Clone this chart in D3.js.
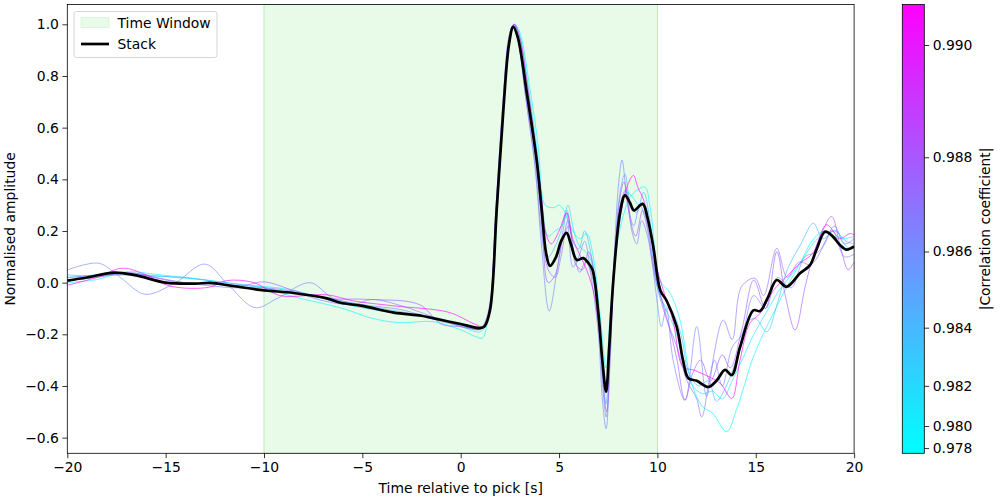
<!DOCTYPE html>
<html>
<head>
<meta charset="utf-8">
<script src="https://cdn.jsdelivr.net/npm/d3@7"></script>
<style>
  body { margin: 0; background: #fff; }
  svg { font-family: "DejaVu Sans", sans-serif; }
</style>
</head>
<body>
<script>
var width = 1000;
var height = 500;

// time window and axis limits
var windowStart = -10, windowEnd = 10;
var xTicks = [-20, -15, -10, -5, 0, 5, 10, 15, 20];
var yTicks = [-0.6, -0.4, -0.2, 0.0, 0.2, 0.4, 0.6, 0.8, 1.0];
var cbTicks = [0.978, 0.980, 0.982, 0.984, 0.986, 0.988, 0.990];
var ccMin = 0.97655, ccMax = 0.99066;

// stacked trace [time, amplitude]
var stack = [[-20,0.008],[-19,0.02],[-17.6,0.039],[-16.5,0.028],[-15,0.0],[-13.5,-0.004],[-12.75,-0.001],
  [-11.6,-0.013],[-10.2,-0.028],[-9.7,-0.032],[-8.5,-0.04],[-6.8,-0.061],[-6.1,-0.078],[-5,-0.09],
  [-3.4,-0.116],[-2,-0.128],[-1.4,-0.138],[0,-0.16],[0.98,-0.176],[1.2,-0.17],[1.49,-0.107],[1.83,0.283],
  [2.17,0.67],[2.45,0.92],[2.67,0.99],[2.9,0.95],[3.36,0.735],[3.86,0.475],[4.12,0.28],[4.35,0.11],
  [4.54,0.065],[4.85,0.1],[5.1,0.16],[5.38,0.193],[5.6,0.15],[5.9,0.088],[6.23,0.095],[6.5,0.075],
  [6.7,0.05],[7.0,-0.12],[7.2,-0.3],[7.39,-0.422],[7.55,-0.25],[7.76,0.01],[8.1,0.27],[8.35,0.338],
  [8.6,0.31],[8.81,0.28],[9.25,0.305],[9.5,0.25],[9.79,0.14],[10.15,-0.03],[10.47,-0.07],[10.98,-0.17],
  [11.3,-0.3],[11.57,-0.37],[12.0,-0.38],[12.59,-0.404],[13.0,-0.38],[13.44,-0.338],[13.78,-0.358],
  [14.2,-0.25],[14.88,-0.107],[15.22,-0.11],[15.6,-0.06],[16.07,0.01],[16.57,-0.016],[17.25,0.036],
  [17.76,0.068],[18.1,0.13],[18.52,0.197],[18.9,0.18],[19.28,0.146],[19.62,0.128],[20,0.14]];

// individual traces, one array each
var traceC = [[-20,0.0],[-18.5,0.012],[-17,0.042],[-15.5,0.032],[-14,0.02],[-12.5,0.006],[-11,-0.008],
  [-10.2,-0.015],[-8.5,-0.054],[-6,-0.1],[-4.5,-0.138],[-3.1,-0.155],[-1.4,-0.151],[0,-0.183],[0.8,-0.21],
  [1.1,-0.215],[1.35,-0.16],[1.6,-0.02],[1.9,0.33],[2.2,0.7],[2.5,0.94],[2.75,1.0],[3.0,0.97],[3.5,0.76],
  [3.95,0.52],[4.12,0.35],[4.3,0.3],[4.7,0.29],[5.0,0.3],[5.25,0.28],[5.56,0.22],[6.05,0.17],[6.4,0.19],
  [6.74,0.1],[7.08,-0.12],[7.39,-0.33],[7.6,-0.12],[7.93,0.14],[8.27,0.26],[8.6,0.33],[9.0,0.36],
  [9.37,0.37],[9.65,0.28],[10.13,0.01],[10.64,-0.04],[11.15,-0.145],[11.74,-0.39],[12.3,-0.48],
  [12.8,-0.505],[13.52,-0.577],[14.03,-0.49],[14.88,-0.287],[15.56,-0.17],[16.07,-0.093],[16.4,-0.041],
  [17.25,0.075],[17.9,0.165],[18.5,0.2],[19.2,0.17],[20,0.178]];
var traceL = [[-20,0.02],[-18.5,0.03],[-17.3,0.035],[-16,0.03],[-14.5,0.02],[-13,0.01],[-11.5,-0.01],
  [-10,-0.015],[-8.5,-0.03],[-7,-0.06],[-5.5,-0.09],[-4,-0.11],[-2.5,-0.125],[-1,-0.145],[0,-0.17],
  [1.0,-0.19],[1.3,-0.16],[1.58,-0.05],[1.88,0.32],[2.22,0.71],[2.52,0.95],[2.75,1.0],[3.02,0.95],
  [3.45,0.75],[3.9,0.5],[4.15,0.3],[4.45,0.18],[4.8,0.2],[5.15,0.22],[5.45,0.3],[5.75,0.2],[6.05,0.14],
  [6.35,0.12],[6.65,0.08],[6.95,-0.06],[7.2,-0.3],[7.4,-0.4],[7.6,-0.18],[7.85,0.1],[8.15,0.3],
  [8.45,0.35],[8.75,0.33],[9.05,0.3],[9.35,0.3],[9.65,0.2],[9.95,0.0],[10.4,-0.1],[10.9,-0.18],
  [11.3,-0.3],[11.8,-0.4],[12.3,-0.43],[12.8,-0.42],[13.3,-0.45],[13.8,-0.38],[14.3,-0.3],[14.9,-0.2],
  [15.5,-0.12],[16.1,-0.04],[16.7,0.02],[17.3,0.08],[17.9,0.15],[18.5,0.19],[19.1,0.2],[19.6,0.14],[20,0.13]];
var traceB = [[-20,0.03],[-18.5,0.025],[-17,0.03],[-15.5,0.025],[-14,0.02],[-12.5,0.005],[-11,-0.01],
  [-10,-0.02],[-8.5,-0.04],[-7,-0.055],[-5.5,-0.08],[-4,-0.1],[-2.5,-0.12],[-1,-0.14],[0,-0.165],
  [1.0,-0.18],[1.3,-0.15],[1.55,-0.06],[1.85,0.31],[2.2,0.7],[2.5,0.95],[2.72,1.0],[3.0,0.94],[3.4,0.74],
  [3.9,0.48],[4.15,0.26],[4.45,0.1],[4.8,0.14],[5.1,0.2],[5.4,0.28],[5.7,0.16],[6.0,0.13],[6.3,0.2],
  [6.6,0.12],[6.9,-0.02],[7.15,-0.25],[7.38,-0.47],[7.6,-0.2],[7.85,0.12],[8.1,0.35],[8.35,0.42],
  [8.65,0.3],[8.95,0.27],[9.3,0.35],[9.6,0.25],[9.9,0.05],[10.3,-0.08],[10.8,-0.12],[11.2,-0.2],
  [11.6,-0.35],[12.1,-0.4],[12.6,-0.38],[13.0,-0.46],[13.5,-0.4],[14.0,-0.3],[14.6,-0.15],[15.0,-0.14],
  [15.56,-0.19],[16.1,-0.08],[16.6,0.05],[17.3,0.15],[17.93,0.23],[18.4,0.17],[19.0,0.2],[19.6,0.16],[20,0.15]];
var traceP1 = [[-20,0.049],[-18.4,0.075],[-17.3,0.02],[-16.05,-0.045],[-14.5,0.0],[-13.0,0.072],
  [-11.8,-0.01],[-10.46,-0.097],[-9.3,-0.06],[-7.66,0.0],[-6.5,-0.06],[-5,-0.085],[-3,-0.105],[-1,-0.15],
  [0,-0.165],[1.0,-0.18],[1.25,-0.16],[1.5,-0.08],[1.8,0.3],[2.15,0.7],[2.45,0.95],[2.65,0.995],
  [2.9,0.94],[3.3,0.72],[3.8,0.43],[4.1,0.15],[4.5,-0.11],[4.9,0.05],[5.2,0.2],[5.39,0.27],[5.7,0.06],
  [6.0,0.1],[6.3,0.16],[6.6,0.04],[7.0,-0.2],[7.2,-0.45],[7.39,-0.565],[7.6,-0.3],[7.8,0.1],[8.05,0.4],
  [8.2,0.475],[8.5,0.3],[8.8,0.22],[9.1,0.3],[9.4,0.24],[9.7,0.1],[10.0,-0.08],[10.2,-0.17],[10.45,-0.1],
  [10.8,-0.3],[11.4,-0.455],[12.0,-0.17],[12.5,-0.44],[12.9,-0.3],[13.3,-0.4],[13.8,-0.25],[14.3,-0.2],
  [14.9,-0.05],[15.5,-0.1],[16.1,0.02],[16.8,-0.02],[17.5,0.1],[18.2,0.12],[18.9,0.2],[19.5,0.1],[20,0.11]];
var traceP2 = [[-20,0.02],[-18,0.03],[-16.5,0.035],[-15,0.01],[-13,-0.01],[-11.5,-0.02],[-10,-0.02],
  [-8.5,-0.035],[-7,-0.07],[-5.5,-0.085],[-4.5,-0.065],[-3,-0.09],[-1.5,-0.13],[0,-0.17],[1.0,-0.18],
  [1.25,-0.15],[1.5,-0.07],[1.8,0.3],[2.15,0.7],[2.45,0.95],[2.7,1.0],[2.95,0.93],[3.3,0.72],[3.8,0.45],
  [4.1,0.2],[4.45,0.05],[4.8,0.02],[5.1,0.1],[5.45,0.24],[5.75,0.12],[6.05,0.04],[6.35,0.08],[6.7,0.02],
  [7.0,-0.15],[7.2,-0.38],[7.4,-0.52],[7.6,-0.25],[7.8,0.05],[8.1,0.3],[8.4,0.36],[8.7,0.2],[8.95,0.15],
  [9.2,0.24],[9.5,0.18],[9.8,0.05],[10.1,-0.05],[10.5,-0.15],[11.0,-0.25],[11.5,-0.38],[12.0,-0.45],
  [12.25,-0.52],[12.7,-0.35],[13.35,-0.145],[13.8,-0.22],[14.28,-0.015],[14.96,0.017],[15.4,-0.05],
  [16.07,0.133],[16.6,0.02],[17.2,0.08],[17.8,0.07],[18.5,0.15],[19.0,0.22],[19.5,0.15],[20,0.17]];
var traceV = [[-20,0.01],[-18.5,0.02],[-17,0.04],[-15.5,0.02],[-14,0.0],[-12.5,-0.005],[-11,-0.01],
  [-10,0.003],[-8.5,-0.03],[-7,-0.06],[-4.6,-0.065],[-2.1,-0.085],[-1,-0.16],[0,-0.17],[1.0,-0.178],
  [1.25,-0.16],[1.5,-0.09],[1.82,0.29],[2.18,0.68],[2.47,0.94],[2.7,0.995],[2.95,0.93],[3.35,0.72],
  [3.85,0.46],[4.15,0.2],[4.45,0.0],[4.8,0.03],[5.2,0.17],[5.5,0.22],[5.85,0.07],[6.2,0.05],[6.5,0.12],
  [6.8,0.03],[7.05,-0.15],[7.25,-0.4],[7.42,-0.5],[7.6,-0.28],[7.8,0.06],[8.1,0.33],[8.3,0.39],[8.6,0.25],
  [8.9,0.18],[9.25,0.28],[9.55,0.2],[9.85,0.05],[10.2,-0.06],[10.7,-0.2],[11.0,-0.3],[11.4,-0.455],
  [11.8,-0.35],[12.2,-0.3],[12.7,-0.38],[13.3,-0.28],[13.7,-0.33],[14.3,-0.18],[14.9,0.01],[15.5,-0.1],
  [16.07,0.12],[16.5,-0.05],[17.0,-0.183],[17.5,-0.02],[17.9,0.1],[18.4,0.2],[18.86,0.256],[19.3,0.14],
  [19.7,0.05],[20,0.08]];
var traceM = [[-20,-0.01],[-18.5,0.02],[-17.2,0.056],[-16,0.03],[-14.8,-0.013],[-12.8,-0.018],
  [-11.9,0.008],[-10.5,0.0],[-9.2,-0.05],[-6.8,-0.047],[-5.5,-0.07],[-3.4,-0.09],[-0.6,-0.115],[0.7,-0.16],
  [1.15,-0.17],[1.45,-0.11],[1.8,0.27],[2.2,0.7],[2.5,0.95],[2.72,1.0],[3.0,0.95],[3.4,0.76],[3.9,0.47],
  [4.1,0.34],[4.3,0.2],[4.6,0.15],[5.0,0.2],[5.39,0.27],[5.7,0.17],[6.1,0.1],[6.4,0.05],[6.8,-0.05],
  [7.08,-0.22],[7.39,-0.4],[7.6,-0.2],[7.85,0.08],[8.15,0.27],[8.45,0.37],[8.78,0.415],[9.0,0.37],
  [9.3,0.32],[9.6,0.22],[9.9,0.08],[10.3,-0.03],[10.8,-0.15],[11.3,-0.326],[11.83,-0.338],[12.5,-0.36],
  [13.2,-0.39],[13.78,-0.448],[14.2,-0.3],[14.7,-0.157],[15.22,-0.119],[15.9,-0.03],[16.57,0.023],
  [17.25,0.075],[17.9,0.114],[18.6,0.224],[19.28,0.172],[19.8,0.19],[20,0.185]];

var traces = [
  { cc: 0.9780, pts: traceC },
  { cc: 0.9812, pts: traceL },
  { cc: 0.9840, pts: traceB },
  { cc: 0.9862, pts: traceP1 },
  { cc: 0.9868, pts: traceP2 },
  { cc: 0.9880, pts: traceV },
  { cc: 0.9905, pts: traceM }
];

var svg = d3.select("body")
  .append("svg")
  .attr("width", width)
  .attr("height", height);

var plot = { left: 67.3, right: 854.1, top: 4.5, bottom: 453.3 };

var x = d3.scaleLinear().domain([-20, 20]).range([plot.left, plot.right]);
var y = d3.scaleLinear().domain([-0.6606, 1.0767]).range([plot.bottom, plot.top]);

// matplotlib "cool" + PowerNorm(gamma=2)
var norm = function(v) { return Math.pow((v - ccMin) / (ccMax - ccMin), 2); };
var cool = d3.interpolateRgb("#00ffff", "#ff00ff");

svg.append("defs").append("clipPath").attr("id", "clip")
  .append("rect")
  .attr("x", plot.left).attr("y", plot.top)
  .attr("width", plot.right - plot.left).attr("height", plot.bottom - plot.top);

// time window span
svg.append("rect")
  .attr("x", x(windowStart))
  .attr("y", plot.top)
  .attr("width", x(windowEnd) - x(windowStart))
  .attr("height", plot.bottom - plot.top)
  .attr("fill", "#e8fae8")
  .attr("stroke", "#b8efb8")
  .attr("stroke-width", 1);

var line = d3.line()
  .x(function(d) { return x(d[0]); })
  .y(function(d) { return y(d[1]); })
  .curve(d3.curveCatmullRom.alpha(0.5));

var g = svg.append("g").attr("clip-path", "url(#clip)");

g.selectAll("path.trace")
  .data(traces)
  .enter().append("path")
    .attr("class", "trace")
    .attr("d", function(d) { return line(d.pts); })
    .attr("fill", "none")
    .attr("stroke", function(d) { return cool(norm(d.cc)); })
    .attr("stroke-opacity", 0.7)
    .attr("stroke-width", 0.9);

g.append("path")
  .attr("d", line(stack))
  .attr("fill", "none")
  .attr("stroke", "#000")
  .attr("stroke-width", 2.7);

// axes
var xAxis = svg.append("g")
  .attr("transform", "translate(0," + plot.bottom + ")")
  .call(d3.axisBottom(x).tickValues(xTicks).tickSize(4.9).tickPadding(3.5).tickFormat(d3.format("d")));
var yAxis = svg.append("g")
  .attr("transform", "translate(" + plot.left + ",0)")
  .call(d3.axisLeft(y).tickValues(yTicks).tickSize(4.9).tickPadding(3.5).tickFormat(d3.format(".1f")));

[xAxis, yAxis].forEach(function(a) {
  a.select(".domain").remove();
  a.selectAll("text").attr("font-size", "13.9px").attr("fill", "#000").attr("font-family", "DejaVu Sans");
  a.selectAll("line").attr("stroke", "#000").attr("stroke-width", 0.8);
});

svg.append("rect")
  .attr("x", plot.left).attr("y", plot.top)
  .attr("width", plot.right - plot.left).attr("height", plot.bottom - plot.top)
  .attr("fill", "none").attr("stroke", "#000").attr("stroke-width", 0.8);

svg.append("text")
  .attr("x", (plot.left + plot.right) / 2)
  .attr("y", 493)
  .attr("text-anchor", "middle")
  .attr("font-size", "13.9px")
  .text("Time relative to pick [s]");

svg.append("text")
  .attr("transform", "translate(15," + (plot.top + plot.bottom) / 2 + ") rotate(-90)")
  .attr("text-anchor", "middle")
  .attr("font-size", "13.9px")
  .text("Normalised amplitude");

// legend
var legend = svg.append("g").attr("transform", "translate(74,11.5)");
legend.append("rect")
  .attr("width", 143).attr("height", 46).attr("rx", 2.5)
  .attr("fill", "#fff").attr("fill-opacity", 0.8)
  .attr("stroke", "#cccccc").attr("stroke-width", 0.8);
legend.append("rect")
  .attr("x", 7).attr("y", 6).attr("width", 28).attr("height", 10)
  .attr("fill", "#e8fae8").attr("stroke", "#d5f6d5").attr("stroke-width", 0.8);
legend.append("text").attr("x", 43.5).attr("y", 16).attr("font-size", "13.9px").text("Time Window");
legend.append("line")
  .attr("x1", 7).attr("x2", 35).attr("y1", 32.5).attr("y2", 32.5)
  .attr("stroke", "#000").attr("stroke-width", 2.7);
legend.append("text").attr("x", 43.5).attr("y", 37.5).attr("font-size", "13.9px").text("Stack");

// colorbar
var cb = { left: 902.3, right: 924.3, top: 4.5, bottom: 453.3 };
var cbY = d3.scaleLinear().domain([0, 1]).range([cb.bottom, cb.top]);

var grad = svg.select("defs").append("linearGradient")
  .attr("id", "cbgrad")
  .attr("x1", 0).attr("y1", 1).attr("x2", 0).attr("y2", 0);
grad.append("stop").attr("offset", "0%").attr("stop-color", cool(0));
grad.append("stop").attr("offset", "50%").attr("stop-color", cool(0.5));
grad.append("stop").attr("offset", "100%").attr("stop-color", cool(1));

svg.append("rect")
  .attr("x", cb.left).attr("y", cb.top)
  .attr("width", cb.right - cb.left).attr("height", cb.bottom - cb.top)
  .attr("fill", "url(#cbgrad)")
  .attr("stroke", "#000").attr("stroke-width", 0.8);

var cbTick = svg.append("g").selectAll("g")
  .data(cbTicks)
  .enter().append("g")
    .attr("transform", function(d) { return "translate(" + cb.right + "," + cbY(norm(d)) + ")"; });
cbTick.append("line").attr("x2", 4.9).attr("stroke", "#000").attr("stroke-width", 0.8);
cbTick.append("text")
  .attr("x", 8.4).attr("dy", "0.32em")
  .attr("font-size", "13.9px")
  .text(function(d) { return d3.format(".3f")(d); });

svg.append("text")
  .attr("transform", "translate(990," + (cb.top + cb.bottom) / 2 + ") rotate(-90)")
  .attr("text-anchor", "middle")
  .attr("font-size", "13.9px")
  .text("|Correlation coefficient|");
</script>
</body>
</html>
